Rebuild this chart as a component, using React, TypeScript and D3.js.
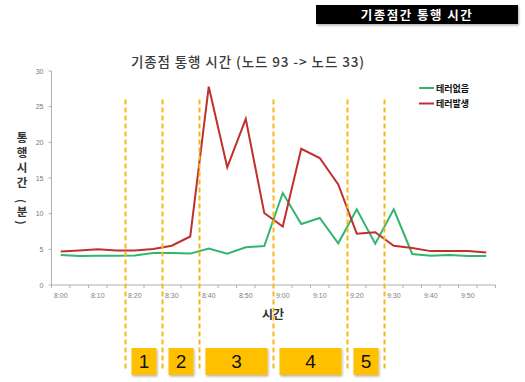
import React from "react";
import * as d3 from "d3";

// Travel time between origin/destination nodes, sampled every 5 minutes from 8:00
const minutes = [0, 5, 10, 15, 20, 25, 30, 35, 40, 45, 50, 55, 60, 65, 70, 75, 80, 85, 90, 95, 100, 105, 110, 115];
const noTerror = [4.2, 4.05, 4.1, 4.1, 4.15, 4.5, 4.5, 4.4, 5.1, 4.4, 5.3, 5.45, 12.9, 8.55, 9.4, 5.85, 10.6, 5.8, 10.6, 4.35, 4.1, 4.2, 4.05, 4.05];
const terror = [4.7, 4.85, 5.0, 4.85, 4.85, 5.05, 5.5, 6.8, 27.8, 16.5, 23.3, 10.1, 8.2, 19.1, 17.8, 14.1, 7.2, 7.4, 5.5, 5.2, 4.75, 4.75, 4.75, 4.55];
const tickMinutes = [0, 10, 20, 30, 40, 50, 60, 70, 80, 90, 100, 110];
const tickLabels = ["8:00", "8:10", "8:20", "8:30", "8:40", "8:50", "9:00", "9:10", "9:20", "9:30", "9:40", "9:50"];
const yTicks = [0, 5, 10, 15, 20, 25, 30];
const phaseBounds = [17.5, 27.5, 37.5, 57.5, 77.5, 87.5];
const phaseLabels = ["1", "2", "3", "4", "5"];
const seriesNames = ["테러없음", "테러발생"];
const seriesColors = ["#33b56e", "#c0302f"];
const yTitleChars = ["통", "행", "시", "간"];

const KR = "'Noto Sans CJK KR', 'Noto Sans', sans-serif";
const LAT = "'Liberation Sans', Arial, sans-serif";

export default function App() {
  const x = d3.scaleLinear().domain([-2.5, 117.5]).range([51.5, 495.5]);
  const y = d3.scaleLinear().domain([0, 30]).range([285, 71]);
  const line = d3
    .line<number>()
    .x((_, i) => x(minutes[i]))
    .y((d) => y(d));

  const boundaryTicks = d3.range(-2.5, 118, 5);
  const boxTop = 348;
  const boxBottom = 375;
  const yTitlePos = [142, 157, 172, 187];

  return (
    <svg width={525} height={382} style={{ position: "absolute", left: 0, top: 0, background: "#fff" }}>
      <defs>
        <filter id="shadow" x="-20%" y="-20%" width="140%" height="160%">
          <feDropShadow dx="1" dy="1.5" stdDeviation="1.2" floodColor="#000" floodOpacity="0.3" />
        </filter>
      </defs>

      {/* heading badge */}
      <rect x={316} y={5} width={202} height={19} fill="#000" filter="url(#shadow)" />
      <text x={417} y={19.5} textAnchor="middle" fill="#fff" fontFamily={KR} fontSize={12.5} fontWeight={700} letterSpacing={1.5}>
        기종점간 통행 시간
      </text>

      {/* chart title */}
      <text x={248} y={66.5} textAnchor="middle" fill="#3a3a3a" fontFamily={KR} fontSize={13.5} fontWeight={500} letterSpacing={0.9}>
        기종점 통행 시간 (노드 93 -&gt; 노드 33)
      </text>

      {/* y axis */}
      <line x1={x(-2.5)} x2={x(-2.5)} y1={y(30)} y2={y(0)} stroke="#b0b0b0" strokeWidth={1} />
      {yTicks.map((t) => (
        <g key={t}>
          <line x1={x(-2.5) - 3} x2={x(-2.5)} y1={y(t)} y2={y(t)} stroke="#b0b0b0" />
          <text x={x(-2.5) - 8} y={y(t) + 2.5} textAnchor="end" fontFamily={LAT} fontSize={7} fill="#777">
            {t}
          </text>
        </g>
      ))}

      {/* x axis */}
      <line x1={x(-2.5)} x2={x(117.5)} y1={y(0)} y2={y(0)} stroke="#b0b0b0" strokeWidth={1} />
      {boundaryTicks.map((t) => (
        <line key={t} x1={x(t)} x2={x(t)} y1={y(0)} y2={y(0) + 3} stroke="#b0b0b0" />
      ))}
      {tickMinutes.map((t, i) => (
        <text key={t} x={x(t)} y={y(0) + 13} textAnchor="middle" fontFamily={LAT} fontSize={7} fill="#808080">
          {tickLabels[i]}
        </text>
      ))}

      {/* axis titles */}
      <text x={273} y={319} textAnchor="middle" fontFamily={KR} fontSize={12} fontWeight={700} fill="#333">
        시간
      </text>
      {yTitleChars.map((c, i) => (
        <text key={i} x={22} y={yTitlePos[i]} textAnchor="middle" fontFamily={KR} fontSize={11.5} fontWeight={700} fill="#333">
          {c}
        </text>
      ))}
      <text x={22} y={201} textAnchor="middle" dominantBaseline="central" transform="rotate(90 22 201)" fontFamily={KR} fontSize={11} fontWeight={700} fill="#333">
        (
      </text>
      <text x={22} y={216} textAnchor="middle" fontFamily={KR} fontSize={11.5} fontWeight={700} fill="#333">
        분
      </text>
      <text x={22} y={222.5} textAnchor="middle" dominantBaseline="central" transform="rotate(90 22 222.5)" fontFamily={KR} fontSize={11} fontWeight={700} fill="#333">
        )
      </text>

      {/* series */}
      <path d={line(noTerror) ?? ""} fill="none" stroke={seriesColors[0]} strokeWidth={2} strokeLinejoin="miter" />
      <path d={line(terror) ?? ""} fill="none" stroke={seriesColors[1]} strokeWidth={2} strokeLinejoin="miter" />

      {/* legend */}
      {seriesNames.map((name, i) => (
        <g key={name}>
          <line x1={419} x2={434} y1={88 + i * 15.5} y2={88 + i * 15.5} stroke={seriesColors[i]} strokeWidth={2} />
          <text x={436} y={91.5 + i * 15.5} fontFamily={KR} fontSize={9} fontWeight={700} fill="#111">
            {name}
          </text>
        </g>
      ))}

      {/* phase labels */}
      {phaseLabels.map((p, i) => {
        const x0 = x(phaseBounds[i]);
        const x1 = x(phaseBounds[i + 1]);
        const inset = 6;
        return (
          <g key={p}>
            <rect x={x0 + inset} y={boxTop} width={x1 - x0 - inset * 2} height={boxBottom - boxTop} fill="#ffc000" filter="url(#shadow)" />
            <text x={(x0 + x1) / 2} y={boxTop + 20} textAnchor="middle" fontFamily={LAT} fontSize={19} fill="#111">
              {p}
            </text>
          </g>
        );
      })}

      {/* phase boundaries */}
      {phaseBounds.map((b) => (
        <line key={b} x1={x(b)} x2={x(b)} y1={y(26)} y2={369} stroke="#f6b91c" strokeWidth={2} strokeDasharray="5,3" />
      ))}
    </svg>
  );
}
